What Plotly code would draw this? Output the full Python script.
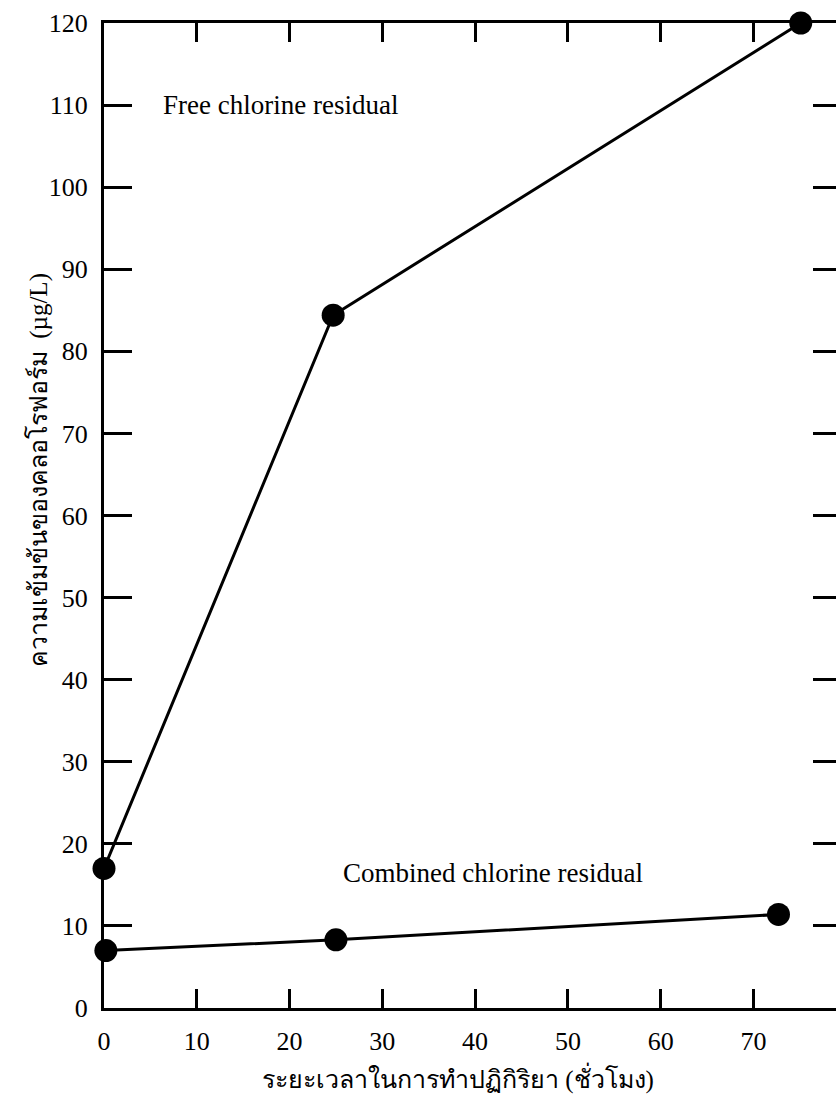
import plotly.graph_objects as go

# Reaction time (hours) and chloroform concentration (µg/L)
free_time = [0, 24.7, 75.1]
free_chcl3 = [17.0, 84.4, 120.0]

combined_time = [0.2, 25.0, 72.7]
combined_chcl3 = [7.0, 8.3, 11.4]

x_ticks = [0, 10, 20, 30, 40, 50, 60, 70]
y_ticks = [0, 10, 20, 30, 40, 50, 60, 70, 80, 90, 100, 110, 120]

x_title = "ระยะเวลาในการทำปฏิกิริยา (ชั่วโมง)"
y_title = "ความเข้มข้นของคลอโรฟอร์ม  (µg/L)"

serif = "Liberation Serif, Times New Roman, serif"
black = "#000000"

fig = go.Figure()

for xs, ys in [(free_time, free_chcl3), (combined_time, combined_chcl3)]:
    fig.add_trace(go.Scatter(
        x=xs, y=ys, mode="lines+markers",
        line=dict(color=black, width=3),
        marker=dict(color=black, size=23),
        cliponaxis=False, showlegend=False,
    ))

# right-hand ticks without an axis line
fig.add_trace(go.Scatter(x=[None], y=[None], yaxis="y2", showlegend=False))

fig.add_annotation(x=19.0, y=110, text="Free chlorine residual", showarrow=False,
                   xanchor="center", yanchor="middle",
                   font=dict(family=serif, size=27, color=black))
fig.add_annotation(x=41.9, y=16.4, text="Combined chlorine residual", showarrow=False,
                   xanchor="center", yanchor="middle",
                   font=dict(family=serif, size=27, color=black))

# axis titles
plot_h = 1097 - 23 - 89
fig.add_annotation(x=38.2, xref="x", y=(1097 - 89 - 1078) / plot_h, yref="paper",
                   text=x_title, showarrow=False, xanchor="center", yanchor="middle",
                   font=dict(family=serif, size=25, color=black))
fig.add_annotation(xref="paper", x=-0.09, yref="paper", y=0.546,
                   text=y_title, textangle=-90, showarrow=False,
                   xanchor="center", yanchor="middle",
                   font=dict(family=serif, size=25, color=black))

fig.update_layout(
    width=836, height=1097,
    margin=dict(l=104, r=0, t=23, b=89),
    paper_bgcolor="white", plot_bgcolor="white",
    font=dict(family=serif, color=black),
    xaxis=dict(
        range=[0, 78.9], tickvals=x_ticks, ticktext=[str(v) for v in x_ticks],
        ticks="inside", ticklen=19, tickwidth=3, tickcolor=black,
        showline=True, linewidth=3, linecolor=black, mirror="ticks",
        showgrid=False, zeroline=False,
        tickfont=dict(family=serif, size=26, color=black),
        ticklabelstandoff=8,
    ),
    yaxis=dict(
        range=[0, 120], tickvals=y_ticks, ticktext=[str(v) for v in y_ticks],
        ticks="inside", ticklen=28, tickwidth=3, tickcolor=black,
        showline=True, linewidth=3, linecolor=black,
        showgrid=False, zeroline=False,
        tickfont=dict(family=serif, size=26, color=black),
        ticklabelstandoff=8,
    ),
    yaxis2=dict(
        overlaying="y", side="right", matches="y", range=[0, 120],
        tickvals=y_ticks, ticks="inside", ticklen=23, tickwidth=3, tickcolor=black,
        showticklabels=False, showline=False, showgrid=False, zeroline=False,
    ),
)

fig.write_html("out.html")
